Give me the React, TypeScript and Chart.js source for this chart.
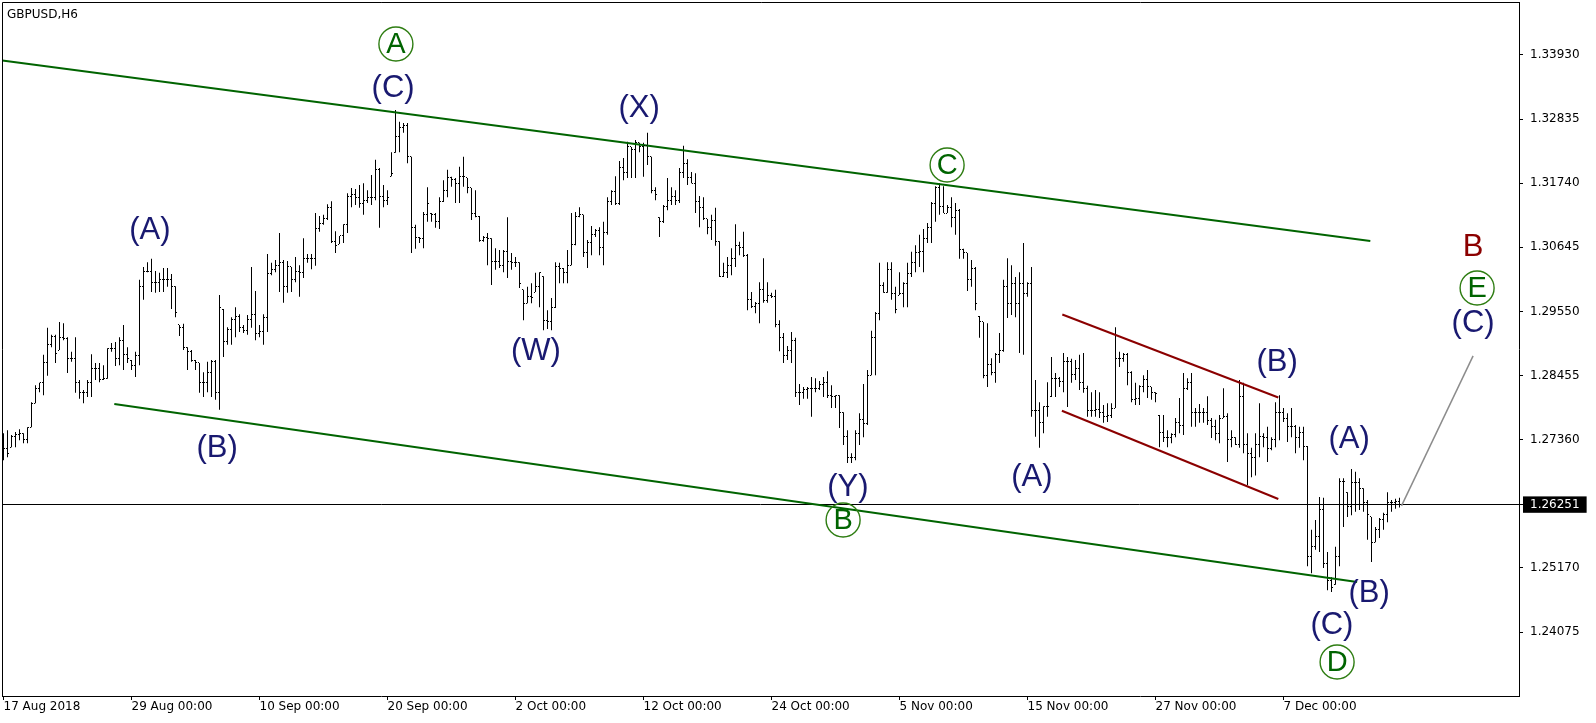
import React, { useEffect, useRef } from 'react';
import { Chart, registerables } from 'chart.js';

Chart.register(...registerables);

// ---- Data (GBPUSD H6, bar index 0 = 17 Aug 2018 00:00) ----
const highs = [
  1.2747,1.2752,1.2744,1.2749,1.2754,1.2747,1.2757,1.2800,1.2829,1.2833,
  1.2881,1.2927,1.2915,1.2915,1.2937,1.2935,1.2911,1.2886,1.2911,1.2838,
  1.2821,1.2838,1.2882,1.2867,1.2867,1.2863,1.2892,1.2901,1.2903,1.2911,
  1.2932,1.2894,1.2872,1.2886,1.3009,1.3031,1.3039,1.3045,1.3024,1.3021,
  1.3029,1.3029,1.3019,1.2998,1.2932,1.2934,1.2894,1.2889,1.2872,1.2867,
  1.2851,1.2869,1.2872,1.2872,1.2983,
  1.2959,1.2928,1.2945,1.2962,1.2950,1.2932,1.2949,1.3031,1.2990,1.2932,
  1.2950,1.3053,1.3038,1.3043,1.3089,1.3043,1.3041,1.3031,1.3048,1.3034,
  1.3080,1.3053,1.3053,1.3123,1.3118,1.3120,1.3138,1.3143,1.3092,1.3084,
  1.3104,1.3157,1.3166,1.3164,1.3171,
  1.3174,1.3162,1.3188,1.3214,1.3200,1.3171,1.3162,1.3227,1.3299,1.3279,
  1.3277,1.3277,1.3219,1.3103,1.3082,1.3125,1.3167,1.3123,1.3123,1.3150,
  1.3179,1.3197,1.3185,1.3183,1.3202,1.3219,1.3183,1.3166,1.3162,1.3118,
  1.3084,1.3089,1.3080,1.3063,1.3060,1.3060,1.3116,1.3055,1.3048,1.3039,
  1.2992,1.2997,1.3003,1.3021,1.3022,1.3015,1.2957,1.2978,1.3039,1.3038,
  1.3029,1.3060,1.3123,1.3125,1.3133,1.3120,1.3077,1.3101,1.3096,1.3099,
  1.3108,1.3150,1.3162,1.3186,1.3212,1.3217,1.3245,1.3236,1.3248,1.3243,
  1.3243,1.3260,1.3219,1.3167,1.3116,1.3137,1.3183,1.3167,1.3162,1.3200,
  1.3238,1.3215,
  1.3193,1.3191,1.3152,1.3150,1.3113,1.3120,1.3132,1.3075,1.3038,1.3048,
  1.3063,1.3104,1.3074,1.3091,1.3053,1.2988,1.2971,1.3005,1.3046,1.3005,
  1.2987,1.2992,1.2940,1.2918,1.2896,1.2920,1.2910,1.2831,1.2826,1.2826,
  1.2843,1.2841,1.2836,1.2843,1.2853,1.2829,1.2812,1.2812,1.2783,1.2752,
  1.2713,1.2752,1.2781,1.2831,1.2855,1.2922,1.2954,1.3038,1.3005,1.3039,
  1.3039,1.2997,1.3022,1.3005,1.3038,1.3057,1.3068,1.3086,
  1.3096,1.3106,1.3142,1.3169,1.3174,1.3169,1.3137,1.3150,1.3140,1.3130,
  1.3062,1.3055,1.3043,1.3031,1.2947,1.2937,1.2935,1.2875,1.2884,1.2918,
  1.3009,1.3046,1.3034,1.3014,1.3022,1.3072,1.3005,1.3031,1.2838,1.2800,
  1.2793,1.2834,1.2877,1.2850,1.2843,1.2884,1.2877,1.2874,1.2872,1.2881,
  1.2884,1.2828,1.2817,1.2821,1.2817,1.2795,1.2798,1.2798,1.2928,1.2886,
  1.2884,1.2884,1.2853,1.2833,1.2829,1.2846,1.2855,
  1.2826,1.2817,1.2778,1.2778,1.2752,1.2747,1.2773,1.2807,1.2850,1.2841,
  1.2850,1.2790,1.2797,1.2790,1.2810,1.2773,1.2770,1.2778,1.2824,1.2781,
  1.2752,1.2740,1.2838,1.2833,1.2747,1.2722,1.2747,1.2798,1.2747,1.2758,
  1.2740,1.2800,1.2812,1.2790,1.2781,1.2790,1.2761,1.2758,1.2758,1.2725,
  1.2582,1.2599,1.2638,1.2637,1.2544,1.2501,1.2553,1.2670,1.2670,1.2646,
  1.2686,1.2681,1.2670,1.2653,1.2633,1.2604,1.2587,1.2602,1.2611,1.2646,
  1.2633,1.2635,1.2637,
];

const lows = [
  1.2701,1.2706,1.2723,1.2723,1.2735,1.2730,1.2730,1.2757,1.2798,1.2817,
  1.2812,1.2845,1.2894,1.2867,1.2889,1.2906,1.2850,1.2869,1.2816,1.2806,
  1.2798,1.2809,1.2809,1.2838,1.2834,1.2838,1.2840,1.2886,1.2862,1.2863,
  1.2855,1.2867,1.2855,1.2843,1.2863,1.2975,1.3022,1.2988,1.2987,1.2988,
  1.2988,1.2997,1.2959,1.2945,1.2913,1.2889,1.2855,1.2869,1.2855,1.2816,
  1.2809,1.2817,1.2809,1.2804,1.2787,
  1.2877,1.2898,1.2898,1.2911,1.2920,1.2918,1.2915,1.2927,1.2906,1.2911,
  1.2898,1.2920,1.3017,1.3022,1.2988,1.2970,1.2987,1.2988,1.3005,1.2980,
  1.3012,1.3038,1.3027,1.3033,1.3091,1.3103,1.3111,1.3072,1.3055,1.3070,
  1.3072,1.3089,1.3133,1.3137,1.3132,
  1.3120,1.3140,1.3137,1.3145,1.3098,1.3133,1.3137,1.3186,1.3226,1.3227,
  1.3260,1.3208,1.3055,1.3062,1.3072,1.3063,1.3108,1.3108,1.3098,1.3096,
  1.3142,1.3150,1.3168,1.3140,1.3140,1.3168,1.3157,1.3111,1.3116,1.3074,
  1.3074,1.3034,1.3000,1.3026,1.3029,1.3022,1.3012,1.3026,1.3031,1.2995,
  1.2940,1.2969,1.2969,1.2988,1.2962,1.2923,1.2925,1.2923,1.2961,1.3003,
  1.3003,1.3003,1.3034,1.3068,1.3116,1.3048,1.3029,1.3051,1.3082,1.3051,
  1.3034,1.3086,1.3137,1.3137,1.3137,1.3179,1.3183,1.3183,1.3183,1.3227,
  1.3185,1.3205,1.3157,1.3145,1.3082,1.3106,1.3128,1.3137,1.3137,1.3140,
  1.3183,1.3171,
  1.3174,1.3123,1.3099,1.3111,1.3087,1.3077,1.3067,1.3014,1.3014,1.3012,
  1.3017,1.3031,1.3051,1.3048,1.2957,1.2961,1.2952,1.2935,1.2970,1.2970,
  1.2978,1.2928,1.2887,1.2867,1.2872,1.2867,1.2809,1.2795,1.2806,1.2806,
  1.2775,1.2817,1.2821,1.2809,1.2807,1.2790,1.2790,1.2756,1.2727,1.2696,
  1.2696,1.2701,1.2727,1.2740,1.2761,1.2846,1.2846,1.2940,1.2987,1.2987,
  1.2975,1.2952,1.2983,1.2962,1.2962,1.3014,1.3022,1.3031,
  1.3022,1.3072,1.3072,1.3108,1.3120,1.3123,1.3123,1.3099,1.3086,1.3045,
  1.3045,1.2990,1.2997,1.2957,1.2910,1.2841,1.2826,1.2846,1.2833,1.2867,
  1.2886,1.2944,1.2949,1.2945,1.2884,1.2881,1.2980,1.2775,1.2741,1.2722,
  1.2747,1.2775,1.2809,1.2809,1.2826,1.2817,1.2792,1.2833,1.2838,1.2821,
  1.2816,1.2775,1.2775,1.2775,1.2773,1.2765,1.2766,1.2773,1.2790,1.2860,
  1.2869,1.2829,1.2800,1.2795,1.2795,1.2817,1.2807,
  1.2804,1.2800,1.2723,1.2732,1.2723,1.2730,1.2740,1.2747,1.2744,1.2821,
  1.2758,1.2758,1.2765,1.2765,1.2761,1.2739,1.2735,1.2730,1.2773,1.2698,
  1.2723,1.2727,1.2722,1.2713,1.2658,1.2672,1.2675,1.2706,1.2723,1.2698,
  1.2718,1.2723,1.2735,1.2766,1.2732,1.2740,1.2713,1.2722,1.2701,1.2520,
  1.2508,1.2548,1.2544,1.2517,1.2479,1.2476,1.2488,1.2520,1.2587,1.2604,
  1.2607,1.2613,1.2616,1.2613,1.2565,1.2527,1.2561,1.2568,1.2582,1.2595,
  1.2613,1.2618,1.2620,
];

const closes = [
  1.2721,1.2713,1.2742,1.2744,1.2747,1.2737,1.2757,1.2798,1.2824,1.2833,
  1.2867,1.2899,1.2913,1.2884,1.2911,1.2909,1.2874,1.2875,1.2834,1.2816,
  1.2816,1.2833,1.2858,1.2858,1.2838,1.2841,1.2892,1.2892,1.2874,1.2906,
  1.2882,1.2874,1.2863,1.2879,1.2998,1.3024,1.3024,1.3005,1.3005,1.3009,
  1.3009,1.3010,1.2998,1.2954,1.2927,1.2894,1.2886,1.2872,1.2867,1.2833,
  1.2833,1.2851,1.2869,1.2817,1.2961,
  1.2903,1.2925,1.2942,1.2947,1.2927,1.2923,1.2942,1.2950,1.2918,1.2920,
  1.2944,1.3019,1.3026,1.3034,1.3039,1.2998,1.3031,1.3009,1.3024,1.3021,
  1.3046,1.3046,1.3045,1.3096,1.3106,1.3113,1.3133,1.3074,1.3068,1.3084,
  1.3104,1.3152,1.3154,1.3149,1.3140,
  1.3145,1.3149,1.3149,1.3198,1.3152,1.3145,1.3150,1.3191,1.3253,1.3270,
  1.3272,1.3219,1.3099,1.3082,1.3080,1.3120,1.3140,1.3120,1.3108,1.3142,
  1.3162,1.3183,1.3181,1.3173,1.3186,1.3186,1.3166,1.3123,1.3118,1.3077,
  1.3082,1.3080,1.3041,1.3041,1.3034,1.3058,1.3041,1.3038,1.3039,1.3003,
  1.2969,1.2980,1.2978,1.2997,1.3021,1.2940,1.2938,1.2961,1.3031,1.3029,
  1.3021,1.3034,1.3070,1.3118,1.3120,1.3055,1.3072,1.3087,1.3094,1.3065,
  1.3089,1.3142,1.3159,1.3140,1.3200,1.3193,1.3236,1.3231,1.3243,1.3236,
  1.3239,1.3219,1.3162,1.3154,1.3108,1.3135,1.3145,1.3152,1.3145,1.3193,
  1.3208,1.3183,
  1.3174,1.3143,1.3133,1.3113,1.3099,1.3110,1.3075,1.3015,1.3022,1.3034,
  1.3046,1.3068,1.3065,1.3051,1.2975,1.2963,1.2968,1.2993,1.2973,1.2983,
  1.2980,1.2933,1.2911,1.2879,1.2889,1.2906,1.2816,1.2816,1.2821,1.2823,
  1.2823,1.2824,1.2831,1.2833,1.2812,1.2809,1.2811,1.2782,1.2742,1.2705,
  1.2705,1.2747,1.2770,1.2763,1.2846,1.2910,1.2952,1.3000,1.2988,1.3026,
  1.2985,1.2959,1.2985,1.3003,1.3019,1.3038,1.3055,1.3057,
  1.3080,1.3098,1.3140,1.3166,1.3135,1.3123,1.3132,1.3116,1.3128,1.3060,
  1.3055,1.3010,1.3029,1.2969,1.2937,1.2846,1.2865,1.2850,1.2881,1.2889,
  1.2997,1.2969,1.3003,1.2968,1.3003,1.2985,1.3003,1.2785,1.2785,1.2765,
  1.2793,1.2793,1.2840,1.2840,1.2836,1.2870,1.2870,1.2848,1.2858,1.2834,
  1.2824,1.2785,1.2785,1.2787,1.2782,1.2775,1.2778,1.2790,1.2875,1.2874,
  1.2881,1.2850,1.2804,1.2807,1.2826,1.2838,1.2826,
  1.2816,1.2814,1.2749,1.2740,1.2740,1.2744,1.2765,1.2761,1.2824,1.2833,
  1.2782,1.2782,1.2783,1.2782,1.2768,1.2759,1.2746,1.2773,1.2775,1.2737,
  1.2740,1.2727,1.2809,1.2727,1.2713,1.2705,1.2727,1.2742,1.2739,1.2721,
  1.2737,1.2783,1.2782,1.2773,1.2758,1.2758,1.2740,1.2749,1.2725,1.2536,
  1.2553,1.2570,1.2617,1.2525,1.2496,1.2483,1.2536,1.2664,1.2664,1.2621,
  1.2662,1.2662,1.2653,1.2628,1.2608,1.2561,1.2582,1.2599,1.2609,1.2628,
  1.2628,1.2630,1.26251,
];

const firstOpen = 1.2739;
const currentPrice = 1.26251;

const dateTickIndex = [0, 32, 64, 96, 128, 160, 192, 224, 256, 288, 320];
const dateTickLabels = [
  '17 Aug 2018', '29 Aug 00:00', '10 Sep 00:00', '20 Sep 00:00', '2 Oct 00:00',
  '12 Oct 00:00', '24 Oct 00:00', '5 Nov 00:00', '15 Nov 00:00', '27 Nov 00:00', '7 Dec 00:00',
];
const priceTicks = [1.24075, 1.2517, currentPrice, 1.2736, 1.28455, 1.2955, 1.30645, 1.3174, 1.32835, 1.3393];

const xMin = -0.375;
const xMax = 378.875;
const yMin = 1.22982;
const yMax = 1.34835;

// Trend / channel lines (bar index, price)
const greenUpper = [{ x: -0.3, y: 1.33836 }, { x: 341.7, y: 1.30753 }];
const greenLower = [{ x: 27.7, y: 1.27969 }, { x: 338.4, y: 1.24928 }];
const redUpper = [{ x: 264.7, y: 1.29497 }, { x: 318.7, y: 1.2808 }];
const redLower = [{ x: 264.6, y: 1.27854 }, { x: 318.7, y: 1.26346 }];
const projection = [{ x: 349.5, y: 1.2623 }, { x: 367.4, y: 1.2879 }];

// Elliott wave labels
const waveLabels = [
  { t: 'A', x: 98.1, y: 1.34118, k: 'circle' },
  { t: '(C)', x: 97.4, y: 1.33366, k: 'navy' },
  { t: '(A)', x: 36.6, y: 1.30941, k: 'navy' },
  { t: '(B)', x: 53.4, y: 1.27217, k: 'navy' },
  { t: '(W)', x: 133.1, y: 1.28874, k: 'navy' },
  { t: '(X)', x: 158.9, y: 1.33024, k: 'navy' },
  { t: 'C', x: 235.9, y: 1.32051, k: 'circle' },
  { t: '(Y)', x: 211.1, y: 1.26551, k: 'navy' },
  { t: 'B', x: 209.9, y: 1.25987, k: 'circle' },
  { t: '(A)', x: 257.1, y: 1.26722, k: 'navy' },
  { t: '(B)', x: 318.4, y: 1.28686, k: 'navy' },
  { t: '(A)', x: 336.4, y: 1.27371, k: 'navy' },
  { t: '(B)', x: 341.4, y: 1.24741, k: 'navy' },
  { t: '(C)', x: 332.1, y: 1.24194, k: 'navy' },
  { t: 'D', x: 333.4, y: 1.23562, k: 'circle' },
  { t: 'B', x: 367.4, y: 1.3065, k: 'red' },
  { t: 'E', x: 368.4, y: 1.2995, k: 'circle' },
  { t: '(C)', x: 367.4, y: 1.29352, k: 'navy' },
];

const AXIS_FONT = 'DejaVu Sans';
const LABEL_FONT = 'Liberation Sans';

const ohlcTicksPlugin = {
  id: 'ohlcTicks',
  afterDatasetsDraw(chart: any) {
    const { ctx } = chart;
    const xs = chart.scales.x;
    const ys = chart.scales.y;
    ctx.save();
    ctx.fillStyle = '#000';
    for (let i = 0; i < closes.length; i++) {
      const cx = Math.floor(xs.getPixelForValue(i));
      const prev = i === 0 ? firstOpen : closes[i - 1];
      const o = Math.min(highs[i], Math.max(lows[i], prev));
      const c = Math.min(highs[i], Math.max(lows[i], closes[i]));
      ctx.fillRect(cx - 1, Math.floor(ys.getPixelForValue(o)), 1, 1);
      ctx.fillRect(cx + 1, Math.floor(ys.getPixelForValue(c)), 1, 1);
    }
    ctx.restore();
  },
};

const priceLinePlugin = {
  id: 'priceLine',
  beforeDatasetsDraw(chart: any) {
    const { ctx, chartArea } = chart;
    const py = Math.floor(chart.scales.y.getPixelForValue(currentPrice)) + 0.5;
    ctx.save();
    ctx.strokeStyle = '#000';
    ctx.lineWidth = 1;
    ctx.beginPath();
    ctx.moveTo(chartArea.left, py);
    ctx.lineTo(chartArea.right, py);
    ctx.stroke();
    ctx.restore();
  },
};

const framePlugin = {
  id: 'frame',
  afterDraw(chart: any) {
    const { ctx, chartArea } = chart;
    ctx.save();
    ctx.strokeStyle = '#000';
    ctx.lineWidth = 1;
    ctx.beginPath();
    ctx.moveTo(chartArea.left + 0.5, chartArea.bottom);
    ctx.lineTo(chartArea.left + 0.5, chartArea.top + 0.5);
    ctx.lineTo(chartArea.right + 1, chartArea.top + 0.5);
    ctx.stroke();
    ctx.fillStyle = '#000';
    ctx.font = `12px "${AXIS_FONT}"`;
    ctx.textAlign = 'left';
    ctx.textBaseline = 'top';
    ctx.fillText('GBPUSD,H6', chartArea.left + 5, chartArea.top + 7);
    ctx.restore();
  },
};

const waveLabelPlugin = {
  id: 'waveLabels',
  afterDraw(chart: any) {
    const { ctx } = chart;
    const xs = chart.scales.x;
    const ys = chart.scales.y;
    ctx.save();
    ctx.textAlign = 'center';
    ctx.textBaseline = 'middle';
    for (const l of waveLabels) {
      const px = xs.getPixelForValue(l.x);
      const py = ys.getPixelForValue(l.y);
      if (l.k === 'circle') {
        ctx.beginPath();
        ctx.ellipse(px, py, 17, 17, 0, 0, Math.PI * 2);
        ctx.strokeStyle = '#2e7d12';
        ctx.lineWidth = 1.4;
        ctx.stroke();
        ctx.fillStyle = '#006400';
        ctx.font = `29px "${LABEL_FONT}"`;
        ctx.fillText(l.t, px, py + 1);
      } else {
        ctx.fillStyle = l.k === 'red' ? '#8b0000' : '#191970';
        ctx.font = `31px "${LABEL_FONT}"`;
        ctx.fillText(l.t, px, py);
      }
    }
    ctx.restore();
  },
};

export default function App() {
  const canvasRef = useRef<HTMLCanvasElement | null>(null);

  useEffect(() => {
    if (!canvasRef.current) return;
    const barData = highs.map((h, i) => ({ x: i, y: [lows[i], h] }));
    const lineDs = (data: any[], color: string, width: number, order: number) => ({
      type: 'line' as const,
      data,
      borderColor: color,
      borderWidth: width,
      pointRadius: 0,
      fill: false,
      tension: 0,
      order,
    });

    const chart = new Chart(canvasRef.current, {
      type: 'line',
      data: {
        datasets: [
          lineDs(greenUpper, '#006400', 2, 1),
          lineDs(greenLower, '#006400', 2, 2),
          lineDs(redUpper, '#8b0000', 2, 3),
          lineDs(redLower, '#8b0000', 2, 4),
          lineDs(projection, '#8c8c8c', 1.5, 5),
          {
            type: 'bar' as const,
            data: barData as any,
            backgroundColor: '#000',
            borderWidth: 0,
            barThickness: 1,
            inflateAmount: 0,
            grouped: false,
            order: 10,
          } as any,
        ],
      },
      options: {
        responsive: false,
        devicePixelRatio: 1,
        animation: false,
        events: [],
        layout: { padding: { left: 2, top: 2, right: 0, bottom: 0 } },
        plugins: { legend: { display: false }, tooltip: { enabled: false } },
        scales: {
          x: {
            type: 'linear',
            position: 'bottom',
            min: xMin,
            max: xMax,
            offset: false,
            afterBuildTicks: (scale: any) => {
              scale.ticks = dateTickIndex.map((v) => ({ value: v }));
            },
            afterFit: (scale: any) => {
              scale.height = 27;
              scale.paddingLeft = 0;
              scale.paddingRight = 0;
            },
            border: { display: true, color: '#000', width: 1 },
            grid: { display: true, drawOnChartArea: false, drawTicks: true, tickLength: 4, color: '#000', offset: false },
            ticks: {
              autoSkip: false,
              maxRotation: 0,
              minRotation: 0,
              align: 'start',
              padding: 0,
              color: '#000',
              font: { family: AXIS_FONT, size: 12 },
              callback: (_v: any, idx: number) => dateTickLabels[idx],
            },
          },
          y: {
            type: 'linear',
            position: 'right',
            min: yMin,
            max: yMax,
            afterBuildTicks: (scale: any) => {
              scale.ticks = priceTicks.map((v) => ({ value: v }));
            },
            afterFit: (scale: any) => {
              scale.width = 77;
              scale.paddingTop = 0;
              scale.paddingBottom = 0;
            },
            border: { display: true, color: '#000', width: 1 },
            grid: { display: true, drawOnChartArea: false, drawTicks: true, tickLength: 4, color: '#000' },
            ticks: {
              autoSkip: false,
              padding: 7,
              font: { family: AXIS_FONT, size: 12 },
              color: (ctx: any) => (ctx.tick && ctx.tick.value === currentPrice ? '#fff' : '#000'),
              showLabelBackdrop: (ctx: any) => !!(ctx.tick && ctx.tick.value === currentPrice),
              backdropColor: '#000',
              backdropPadding: { top: 1, bottom: 1, left: 7, right: 7 },
              callback: (v: any) => Number(v).toFixed(5),
            },
          },
        },
      } as any,
      plugins: [priceLinePlugin, ohlcTicksPlugin, framePlugin, waveLabelPlugin],
    });
    return () => chart.destroy();
  }, []);

  return (
    <div style={{ position: 'absolute', left: 0, top: 0, width: 1596, height: 723, background: '#fff' }}>
      <canvas ref={canvasRef} width={1596} height={723} style={{ display: 'block' }} />
    </div>
  );
}
